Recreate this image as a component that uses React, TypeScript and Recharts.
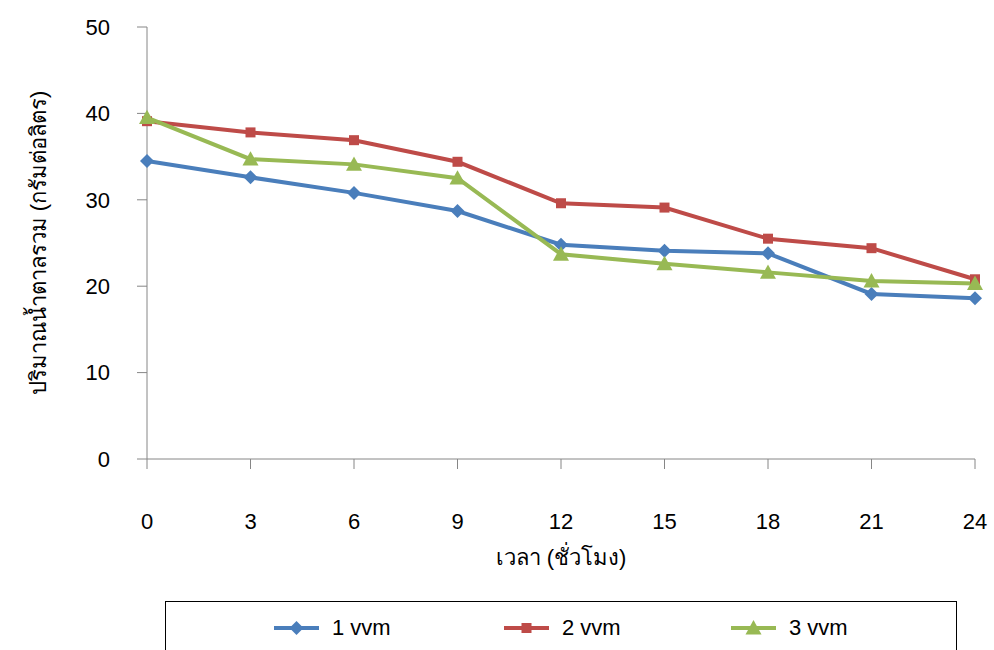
import { LineChart, Line, XAxis, YAxis } from 'recharts'

const hours = ['0', '3', '6', '9', '12', '15', '18', '21', '24']
const vvm1 = [34.5, 32.6, 30.8, 28.7, 24.8, 24.1, 23.8, 19.1, 18.6]
const vvm2 = [39.1, 37.8, 36.9, 34.4, 29.6, 29.1, 25.5, 24.4, 20.8]
const vvm3 = [39.5, 34.7, 34.1, 32.5, 23.7, 22.6, 21.6, 20.6, 20.3]
const yTicks = [0, 10, 20, 30, 40, 50]

const seriesNames = ['1 vvm', '2 vvm', '3 vvm']
const COLORS = ['#4A7EBB', '#BE4B48', '#98B954']

const data = hours.map((h, i) => ({ hour: h, v1: vvm1[i], v2: vvm2[i], v3: vvm3[i] }))

const FONT = "'Liberation Sans Narrow', 'Liberation Sans', sans-serif"
const FS = 22

function Marker({ cx, cy, kind, color }: { cx: number; cy: number; kind: number; color: string }) {
  if (cx == null || cy == null) return null
  if (kind === 0) {
    const s = 7
    return <path d={`M${cx},${cy - s}L${cx + s},${cy}L${cx},${cy + s}L${cx - s},${cy}Z`} fill={color} />
  }
  if (kind === 1) {
    return <rect x={cx - 5} y={cy - 5} width={10} height={10} fill={color} />
  }
  const s = 8
  return <path d={`M${cx},${cy - s}L${cx + s},${cy + s * 0.8}L${cx - s},${cy + s * 0.8}Z`} fill={color} />
}

const dot = (kind: number) => (props: any) => (
  <Marker key={`${kind}-${props.index}`} cx={props.cx} cy={props.cy} kind={kind} color={COLORS[kind]} />
)

function LegendBox() {
  const xs = [273, 503, 730]
  return (
    <div
      style={{
        position: 'absolute',
        left: 165,
        top: 601,
        width: 792,
        height: 60,
        border: '1px solid #000',
        boxSizing: 'border-box',
      }}
    >
      <svg width={792} height={60} style={{ position: 'absolute', left: 0, top: 0 }}>
        {seriesNames.map((name, i) => {
          const x = xs[i] - 165
          return (
            <g key={name}>
              <line x1={x} y1={26} x2={x + 45} y2={26} stroke={COLORS[i]} strokeWidth={4} />
              <Marker cx={x + 22.5} cy={26} kind={i} color={COLORS[i]} />
              <text x={x + 58} y={33} fontSize={FS} fontFamily={FONT} fill="#000">
                {name}
              </text>
            </g>
          )
        })}
      </svg>
    </div>
  )
}

export default function App() {
  return (
    <div style={{ position: 'absolute', left: 0, top: 0, width: 994, height: 650, background: '#fff', overflow: 'hidden' }}>
      <LineChart width={994} height={650} data={data} margin={{ top: 27, right: 19, bottom: 91, left: 0 }}>
        <XAxis
          dataKey="hour"
          height={100}
          stroke="#868686"
          tickSize={10}
          tickMargin={44}
          tick={{ fill: '#000', fontSize: FS, fontFamily: FONT }}
          label={{ value: 'เวลา (ชั่วโมง)', position: 'insideTop', offset: 90, fill: '#000', fontSize: FS, fontFamily: FONT }}
        />
        <YAxis
          width={147}
          domain={[0, 50]}
          ticks={yTicks}
          stroke="#868686"
          tickSize={10}
          tickMargin={27}
          tick={{ fill: '#000', fontSize: FS, fontFamily: FONT }}
          label={{
            value: 'ปริมาณน้ำตาลรวม (กรัมต่อลิตร)',
            angle: -90,
            position: 'insideLeft',
            offset: 38,
            style: { textAnchor: 'middle' },
            fill: '#000',
            fontSize: FS,
            fontFamily: FONT,
          }}
        />
        <Line dataKey="v1" name={seriesNames[0]} stroke={COLORS[0]} strokeWidth={4} dot={dot(0)} isAnimationActive={false} />
        <Line dataKey="v2" name={seriesNames[1]} stroke={COLORS[1]} strokeWidth={4} dot={dot(1)} isAnimationActive={false} />
        <Line dataKey="v3" name={seriesNames[2]} stroke={COLORS[2]} strokeWidth={4} dot={dot(2)} isAnimationActive={false} />
      </LineChart>
      <LegendBox />
    </div>
  )
}
